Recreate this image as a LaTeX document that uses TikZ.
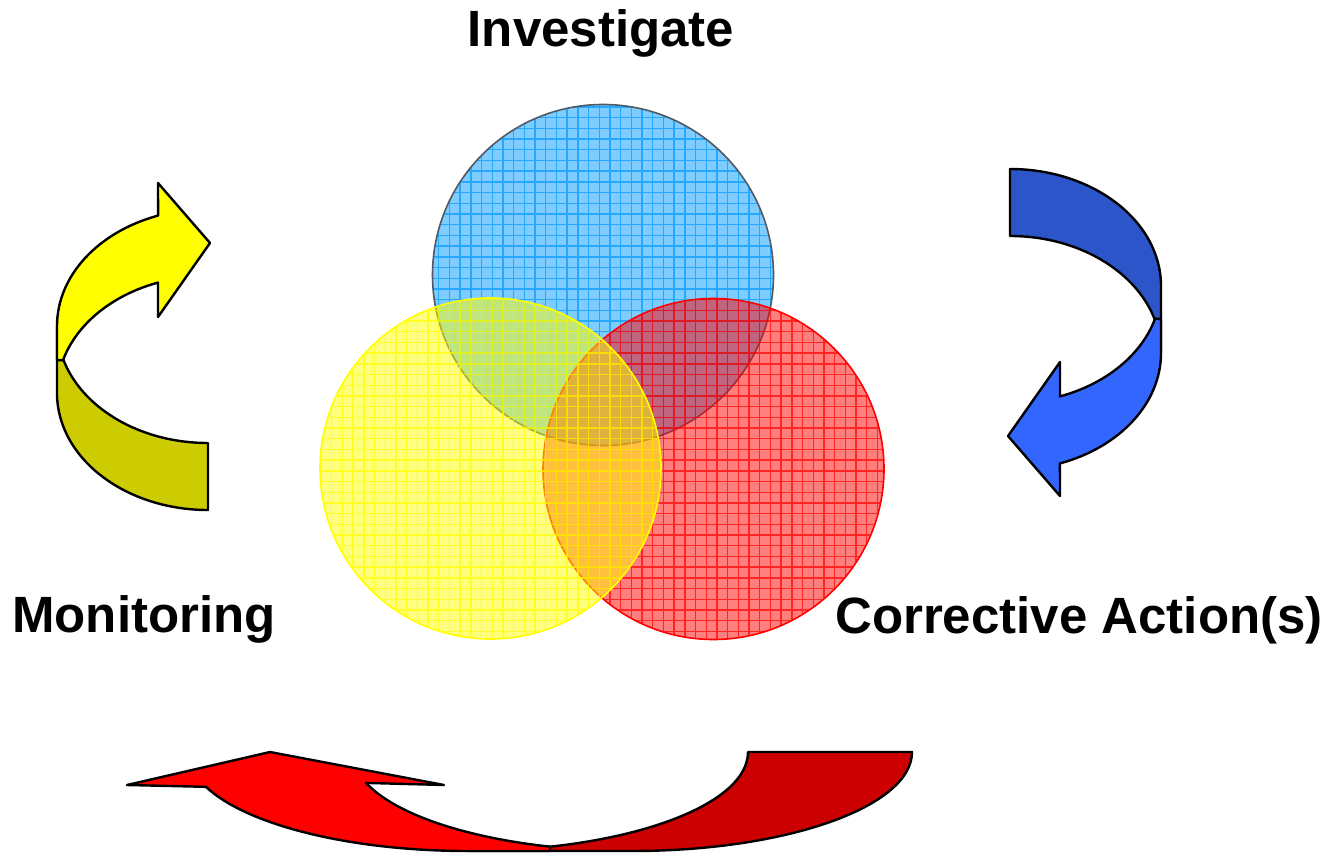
\documentclass[tikz,border=0pt]{standalone}
\usepackage{fontspec}
\setmainfont{Liberation Sans}
\usepackage{tikz}
\definecolor{VennBlue}{RGB}{0,153,255}
\definecolor{VennYellow}{RGB}{255,255,0}
\definecolor{VennRed}{RGB}{255,0,0}
\definecolor{RimGray}{RGB}{80,90,100}
\definecolor{ArrYellow}{RGB}{255,255,0}
\definecolor{ArrYellowDark}{RGB}{204,204,0}
\definecolor{ArrBlue}{RGB}{51,102,255}
\definecolor{ArrBlueDark}{RGB}{43,85,200}
\definecolor{ArrRed}{RGB}{255,0,0}
\definecolor{ArrRedDark}{RGB}{204,0,0}

\newcommand{\bentarrow}[2]{%
  \filldraw[band, fill=#2] (208,443)
      arc[start angle=90, end angle=180, x radius=151, y radius=117]
      -- (57,393) arc[start angle=180, end angle=90, x radius=151, y radius=117] -- cycle;
  \filldraw[band, fill=#1] (57,326)
      arc[start angle=180, end angle=250.7, x radius=151, y radius=117]
      -- (158,183) -- (210,243) -- (158,317) -- (158,282.6)
      arc[start angle=250.7, end angle=196.2, x radius=151, y radius=117]
      -- (57,360) -- cycle;
}

\begin{document}
\begin{tikzpicture}[x=1pt, y=-1pt,
      heading/.style={inner sep=0pt, anchor=base,
                      font=\bfseries\fontsize{51}{58}\selectfont},
      band/.style={draw=black, line width=2.4pt, line join=round}
    ]
    \useasboundingbox (0,0) rectangle (1329,853);

    \coordinate (inv) at (603,275);
    \coordinate (cor) at (713.5,469);
    \coordinate (mon) at (490.5,468.5);

    \foreach \c/\col/\rim in {inv/VennBlue/RimGray, cor/VennRed/VennRed, mon/VennYellow/VennYellow}{
      \begin{scope}
        \fill[\col, fill opacity=.5] (\c) circle[radius=170.5];
        \clip (\c) circle[radius=170.5];
        \draw[\col, opacity=.7, line width=1.4pt, step=10.7pt]
             ([shift={(-180,-180)}]\c) grid ([shift={(180,180)}]\c);
      \end{scope}
      \draw[\rim, line width=1.6pt] (\c) circle[radius=170.5];
    }

    \node[heading] (investigate) at (601,47)  {Investigate};
    \node[heading] (monitoring)  at (144,632) {Monitoring};
    \node[heading] (corrective)  at (1079,633) {Corrective Action(s)};

    \bentarrow{ArrYellow}{ArrYellowDark}
    \begin{scope}[rotate around={180:(609,339.5)}]
      \bentarrow{ArrBlue}{ArrBlueDark}
    \end{scope}

    \filldraw[band, fill=ArrRedDark] (748,752) -- (912,752)
        arc[start angle=0, end angle=90, x radius=280, y radius=99]
        -- (468,851) arc[start angle=90, end angle=0, x radius=280, y radius=99] -- cycle;
    \filldraw[band, fill=ArrRed] (468,851)
        arc[start angle=90, end angle=159.4, x radius=280, y radius=99]
        -- (127,785) -- (270,752) -- (444,785) -- (366,782.9)
        arc[start angle=161.8, end angle=107, x radius=280, y radius=99]
        -- (550,851) -- cycle;
  \end{tikzpicture}
\end{document}
